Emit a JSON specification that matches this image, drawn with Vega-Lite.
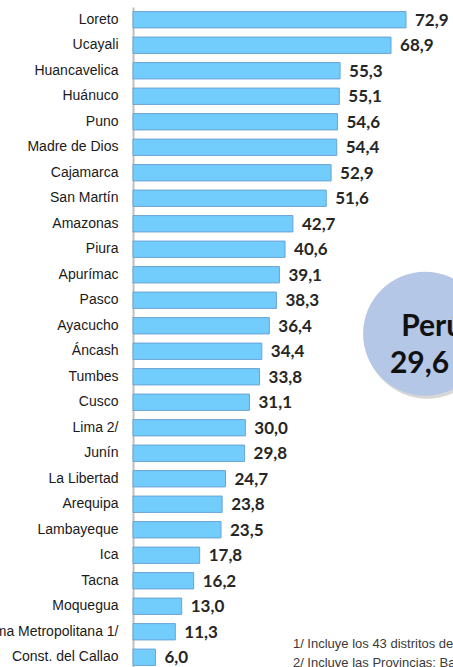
{
  "$schema": "https://vega.github.io/schema/vega-lite/v6.json",
  "width": 320,
  "height": 663,
  "autosize": {"type": "none"},
  "padding": {"left": 133, "top": 7, "right": 0, "bottom": 0},
  "background": "white",
  "config": {
    "view": {"stroke": null},
    "locale": {"number": {"decimal": ",", "thousands": ".", "grouping": [3], "currency": ["", ""]}}
  },
  "datasets": {
    "main": [
      {"region": "Loreto", "value": 72.9},
      {"region": "Ucayali", "value": 68.9},
      {"region": "Huancavelica", "value": 55.3},
      {"region": "Huánuco", "value": 55.1},
      {"region": "Puno", "value": 54.6},
      {"region": "Madre de Dios", "value": 54.4},
      {"region": "Cajamarca", "value": 52.9},
      {"region": "San Martín", "value": 51.6},
      {"region": "Amazonas", "value": 42.7},
      {"region": "Piura", "value": 40.6},
      {"region": "Apurímac", "value": 39.1},
      {"region": "Pasco", "value": 38.3},
      {"region": "Ayacucho", "value": 36.4},
      {"region": "Áncash", "value": 34.4},
      {"region": "Tumbes", "value": 33.8},
      {"region": "Cusco", "value": 31.1},
      {"region": "Lima 2/", "value": 30.0},
      {"region": "Junín", "value": 29.8},
      {"region": "La Libertad", "value": 24.7},
      {"region": "Arequipa", "value": 23.8},
      {"region": "Lambayeque", "value": 23.5},
      {"region": "Ica", "value": 17.8},
      {"region": "Tacna", "value": 16.2},
      {"region": "Moquegua", "value": 13.0},
      {"region": "Lima Metropolitana 1/", "value": 11.3},
      {"region": "Const. del Callao", "value": 6.0}
    ]
  },
  "layer": [
    {
      "data": {"name": "main"},
      "mark": {"type": "bar", "fill": "#72cdfd", "stroke": "#6aa3d6", "strokeWidth": 1},
      "encoding": {
        "y": {
          "field": "region", "type": "nominal", "sort": null,
          "scale": {"paddingInner": 0.36, "paddingOuter": 0.18},
          "axis": {
            "title": null, "ticks": false, "domainColor": "#bfbfbf", "domainWidth": 2,
            "labelPadding": 15, "labelFont": "Liberation Sans", "labelFontSize": 14,
            "labelColor": "#1a1a1a", "labelLimit": 300
          }
        },
        "x": {
          "field": "value", "type": "quantitative",
          "scale": {"domain": [0, 85.45], "nice": false, "zero": true},
          "axis": null
        }
      }
    },
    {
      "data": {"name": "main"},
      "mark": {"type": "text", "align": "left", "baseline": "middle", "dx": 9, "dy": 1, "font": "Lato", "fontWeight": "bold", "fontSize": 17, "color": "#262626"},
      "encoding": {
        "y": {"field": "region", "type": "nominal", "sort": null},
        "x": {"field": "value", "type": "quantitative"},
        "text": {"field": "value", "type": "quantitative", "format": ".1f"}
      }
    },
    {
      "data": {"values": [{"region": "Ayacucho", "value": 78.0}]},
      "mark": {"type": "point", "shape": "circle", "filled": true, "size": 15376, "color": "#8c8c8c", "opacity": 0.35, "xOffset": 2, "yOffset": 11},
      "encoding": {
        "y": {"field": "region", "type": "nominal", "sort": null},
        "x": {"field": "value", "type": "quantitative"}
      }
    },
    {
      "data": {"values": [{"region": "Ayacucho", "value": 78.0}]},
      "mark": {"type": "point", "shape": "circle", "filled": true, "size": 15376, "color": "#b4c7e7", "opacity": 1, "yOffset": 8},
      "encoding": {
        "y": {"field": "region", "type": "nominal", "sort": null},
        "x": {"field": "value", "type": "quantitative"}
      }
    },
    {
      "data": {"values": [{"region": "Ayacucho", "value": 71.6, "text": "Perú"}]},
      "mark": {"type": "text", "align": "left", "baseline": "alphabetic", "yOffset": 10, "font": "Lato", "fontWeight": "bold", "fontSize": 30, "color": "#111111"},
      "encoding": {
        "y": {"field": "region", "type": "nominal", "sort": null},
        "x": {"field": "value", "type": "quantitative"},
        "text": {"field": "text"}
      }
    },
    {
      "data": {"values": [{"region": "Áncash", "value": 68.6, "text": "29,6"}]},
      "mark": {"type": "text", "align": "left", "baseline": "alphabetic", "yOffset": 22, "font": "Lato", "fontWeight": "bold", "fontSize": 30, "color": "#111111"},
      "encoding": {
        "y": {"field": "region", "type": "nominal", "sort": null},
        "x": {"field": "value", "type": "quantitative"},
        "text": {"field": "text"}
      }
    },
    {
      "data": {"values": [{"region": "Const. del Callao", "value": 42.7, "text": "1/ Incluye los 43 distritos de la provincia de Lima.\n2/ Incluye las Provincias: Barranca, Cajatambo, Canta, Cañete, Huaral, Huarochirí, Huaura, Oyón y Yauyos."}]},
      "mark": {"type": "text", "align": "left", "baseline": "alphabetic", "yOffset": -9, "lineBreak": "\n", "lineHeight": 19, "font": "Liberation Sans", "fontSize": 13, "color": "#3a3a3a"},
      "encoding": {
        "y": {"field": "region", "type": "nominal", "sort": null},
        "x": {"field": "value", "type": "quantitative"},
        "text": {"field": "text"}
      }
    }
  ]
}
